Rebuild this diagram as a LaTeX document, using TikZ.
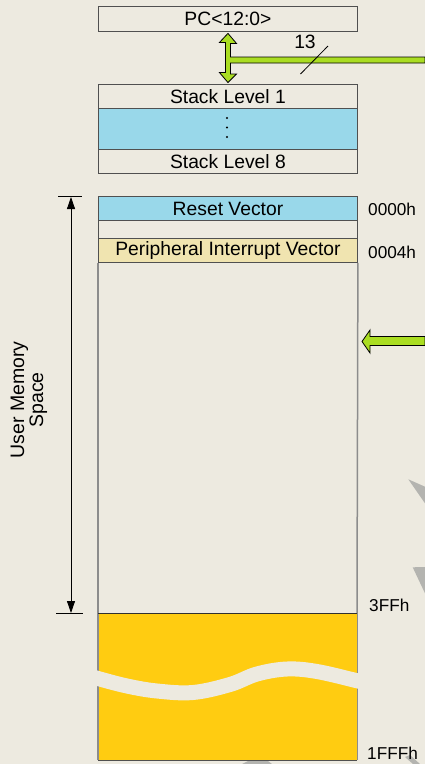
\documentclass[tikz,border=0pt]{standalone}
\usepackage{fontspec}
\setmainfont{Liberation Sans}
\usetikzlibrary{arrows.meta,calc}
\definecolor{bg}{HTML}{EDEAE0}
\definecolor{cellblue}{HTML}{99D8EA}
\definecolor{celltan}{HTML}{F0E4B0}
\definecolor{memyellow}{HTML}{FFCC11}
\definecolor{busgreen}{HTML}{AADD22}
\definecolor{edge}{HTML}{505050}
\definecolor{sideline}{HTML}{8C8C8C}
\definecolor{ghost}{HTML}{B4B4B0}
\begin{document}
\begin{tikzpicture}[x=1pt,y=-1pt,
  cell/.style={draw=edge, line width=0.9pt, minimum width=259pt, inner sep=0pt, anchor=north west, font=\fontsize{19.3}{21}\selectfont},
  addr/.style={anchor=west, inner sep=0pt, font=\fontsize{17.2}{19}\selectfont},
  bus/.style={fill=busgreen, draw=black, line width=0.8pt, line join=miter},
  ghostshape/.style={fill=ghost, draw=none}]
\useasboundingbox (0,0) rectangle (425,764);
\fill[bg] (0,0) rectangle (425,764);

% ghost shapes at edges
\fill[ghostshape] (408.3,479.3) -- (425,486.7) -- (425,503.3) -- cycle;
\fill[ghostshape] (412.7,567.3) -- (425,567) -- (425,593.3) -- cycle;
\fill[ghostshape] (242,764) -- (248,761) -- (268,761) -- (272,764) -- cycle;
\fill[ghostshape] (405,757) -- (410,755) -- (420,764) -- (413,764) -- cycle;

% PC and stack
\node[cell, minimum height=25pt] (pc) at (98,6) {PC<12:0>};
\node[cell, minimum height=24pt] (s1) at (98,84) {Stack Level 1};
\node[cell, minimum height=41pt, fill=cellblue] (smid) at (98,108) {};
\node[cell, minimum height=24pt] (s8) at (98,149) {Stack Level 8};
\foreach \yy in {118,127.5,137} \fill (227,\yy) circle (1.2pt);

% double arrow + bus
\coordinate (busend) at (425,60);
\draw[bus] ($(pc.south)+(0,1.5)$) -- ++(8.5,10) -- ++(-6,0) |- ($(busend)+(0,-3)$) -- ++(0,6) -| ($(s1.north)+(2.5,-10)$) -- ++(6,0) -- ($(s1.north)+(0,-1.5)$) -- ++(-8.5,-10) -- ++(6,0) -- ++(0,-30) -- ++(-6,0) -- cycle;
\coordinate (sla) at (300.5,74);
\coordinate (slb) at (328,46);
\draw[line width=0.8pt] (sla) -- (slb);
\node[inner sep=0pt, font=\fontsize{19.3}{21}\selectfont] (w13) at (305,42) {13};

% memory map
\node[cell, minimum height=24pt, fill=cellblue] (reset) at (98,196) {Reset Vector};
\node[cell, minimum height=18pt] (gap) at (98,220) {};
\node[cell, minimum height=24pt, fill=celltan] (piv) at (98,238) {Peripheral Interrupt Vector};
\draw[sideline, line width=1.5pt] (piv.south west) -- (98,613);
\draw[sideline, line width=1.5pt] (piv.south east) -- (357,613);
\node[draw=none, fill=memyellow, minimum width=259pt, minimum height=147pt, inner sep=0pt, anchor=north west] (ext) at (98,613) {};
\draw[sideline, line width=1.5pt] (ext.north west) -- (ext.south west);
\draw[sideline, line width=1.5pt] (ext.north east) -- (ext.south east);
\draw[edge!60!black, line width=1pt] (ext.north west) -- (ext.north east);
\draw[edge, line width=1pt] (ext.south west) -- (ext.south east);
\begin{scope}
\clip (96,613) rectangle (359.5,760);
\draw[bg, line width=15pt] plot[smooth, tension=0.6] coordinates {(90,676) (98,678.5) (127,686) (157,691) (193,692.5) (230,684.5) (257,674) (287,669) (317,671.5) (358,681) (366,683)};
\end{scope}

% addresses
\node[addr] (a0) at (368,209) {0000h};
\node[addr] (a4) at (368,252) {0004h};
\node[addr] (a3ff) at (369,605) {3FFh};
\node[addr] (a1fff) at (367,753) {1FFFh};

% green arrow into memory
\coordinate (inend) at (425,341);
\draw[bus] (362,341.5) -- (370,330) -- (370,336.5) -- ($(inend)+(0,-4.5)$) -- ($(inend)+(0,4.5)$) -- (370,345.5) -- (370,353) -- cycle;

% dimension arrow
\coordinate (dtop) at (71,197);
\coordinate (dbot) at (71,613);
\draw[line width=0.8pt] (58,196.5) -- (82,196.5);
\draw[line width=0.8pt] (56,613.5) -- (83,613.5);
\draw[line width=0.8pt, {Triangle[length=12pt,width=8pt]}-{Triangle[length=12pt,width=8pt]}] (dtop) -- (dbot);
\node[rotate=90, align=center, inner sep=0pt, font=\fontsize{19.5}{19}\selectfont] (ums) at (29,400) {User Memory\\Space};
\end{tikzpicture}
\end{document}
